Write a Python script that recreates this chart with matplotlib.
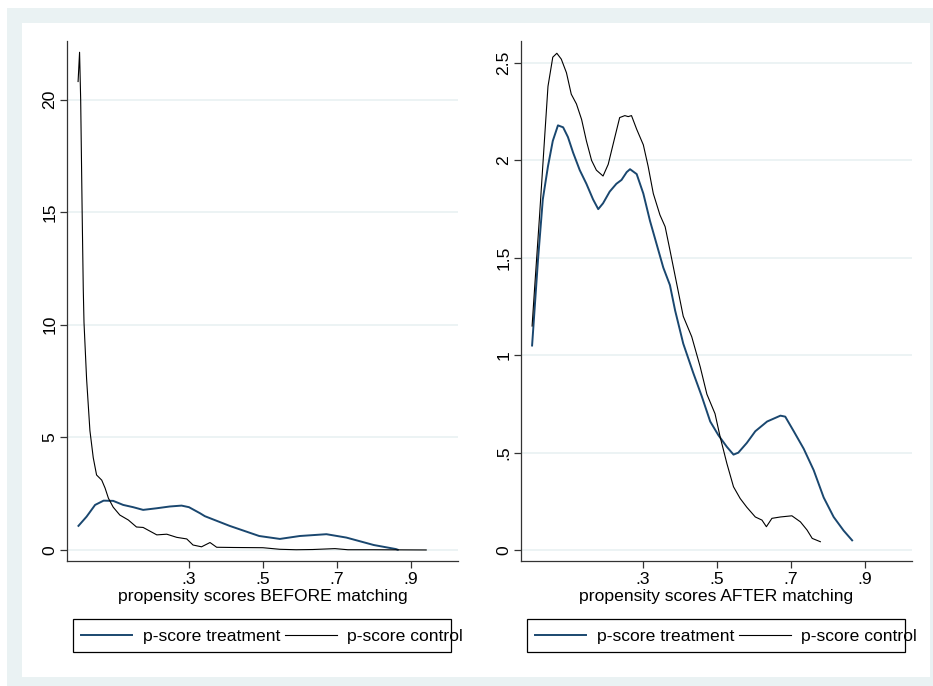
import matplotlib
matplotlib.use("Agg")
import matplotlib.pyplot as plt
from matplotlib.patches import Rectangle
from matplotlib.lines import Line2D

plt.rcParams["font.family"] = ["Liberation Sans", "DejaVu Sans"]

# density of propensity scores BEFORE matching
before_treat_x = [0.001, 0.023, 0.046, 0.069, 0.095, 0.122, 0.149, 0.176, 0.212, 0.248,
                  0.280, 0.300, 0.330, 0.343, 0.410, 0.490, 0.546, 0.600, 0.672, 0.726,
                  0.800, 0.860, 0.865]
before_treat_y = [1.07, 1.48, 2.00, 2.19, 2.18, 2.00, 1.90, 1.78, 1.85, 1.93,
                  1.97, 1.90, 1.63, 1.50, 1.07, 0.62, 0.49, 0.62, 0.70, 0.55,
                  0.22, 0.04, 0.01]
before_ctrl_x = [0.000, 0.004, 0.007, 0.011, 0.014, 0.016, 0.023, 0.032, 0.041, 0.050,
                 0.064, 0.073, 0.082, 0.095, 0.113, 0.136, 0.158, 0.176, 0.213, 0.240,
                 0.267, 0.294, 0.311, 0.334, 0.357, 0.375, 0.420, 0.500, 0.546, 0.590,
                 0.635, 0.695, 0.730, 0.800, 0.942]
before_ctrl_y = [20.8, 22.1, 20.0, 15.0, 11.6, 10.1, 7.6, 5.3, 4.1, 3.33,
                 3.10, 2.75, 2.30, 1.90, 1.55, 1.33, 1.02, 1.00, 0.67, 0.70,
                 0.56, 0.49, 0.22, 0.14, 0.33, 0.12, 0.11, 0.10, 0.03, 0.01,
                 0.02, 0.06, 0.01, 0.01, 0.00]

# density of propensity scores AFTER matching
after_treat_x = [0.000, 0.016, 0.029, 0.043, 0.056, 0.070, 0.084, 0.097, 0.111, 0.129,
                 0.147, 0.165, 0.179, 0.192, 0.210, 0.228, 0.242, 0.256, 0.265, 0.283,
                 0.301, 0.319, 0.337, 0.355, 0.373, 0.387, 0.409, 0.436, 0.459, 0.482,
                 0.504, 0.527, 0.545, 0.558, 0.581, 0.604, 0.636, 0.672, 0.685, 0.708,
                 0.735, 0.762, 0.789, 0.816, 0.843, 0.866]
after_treat_y = [1.05, 1.49, 1.80, 1.97, 2.10, 2.18, 2.17, 2.12, 2.04, 1.95,
                 1.88, 1.80, 1.75, 1.78, 1.84, 1.88, 1.90, 1.94, 1.955, 1.93,
                 1.83, 1.69, 1.57, 1.45, 1.36, 1.23, 1.06, 0.91, 0.79, 0.66,
                 0.59, 0.53, 0.49, 0.50, 0.55, 0.61, 0.66, 0.69, 0.685, 0.61,
                 0.52, 0.41, 0.27, 0.17, 0.10, 0.05]
after_ctrl_x = [0.000, 0.007, 0.020, 0.034, 0.043, 0.056, 0.067, 0.079, 0.093, 0.106,
                0.120, 0.134, 0.147, 0.161, 0.174, 0.192, 0.206, 0.224, 0.237, 0.251,
                0.260, 0.269, 0.283, 0.301, 0.314, 0.328, 0.346, 0.360, 0.373, 0.391,
                0.409, 0.432, 0.455, 0.473, 0.495, 0.509, 0.527, 0.545, 0.563, 0.581,
                0.604, 0.622, 0.634, 0.649, 0.672, 0.703, 0.726, 0.744, 0.758, 0.780]
after_ctrl_y = [1.15, 1.35, 1.71, 2.12, 2.38, 2.53, 2.55, 2.52, 2.45, 2.34,
                2.29, 2.21, 2.10, 2.00, 1.95, 1.92, 1.98, 2.12, 2.22, 2.23,
                2.225, 2.23, 2.16, 2.08, 1.97, 1.83, 1.72, 1.66, 1.54, 1.37,
                1.20, 1.095, 0.94, 0.80, 0.70, 0.58, 0.445, 0.325, 0.265, 0.22,
                0.17, 0.154, 0.12, 0.163, 0.17, 0.176, 0.145, 0.103, 0.06, 0.043]

x_ticks = [0.3, 0.5, 0.7, 0.9]
x_tick_labels = [".3", ".5", ".7", ".9"]
before_y_ticks = [0, 5, 10, 15, 20]
before_y_labels = ["0", "5", "10", "15", "20"]
after_y_ticks = [0, 0.5, 1, 1.5, 2, 2.5]
after_y_labels = ["0", ".5", "1", "1.5", "2", "2.5"]
legend_labels = ["p-score treatment", "p-score control"]

BLUE = "#1a476f"
BG = "#eaf2f3"
AXC = "#333333"
FS = 12.6

W, H = 933, 686
fig = plt.figure(figsize=(W / 100, H / 100), dpi=100)

# outer Stata-like frame
fig.add_artist(Rectangle((7 / W, 0), (W - 7) / W, (H - 8) / H, transform=fig.transFigure,
                         facecolor=BG, edgecolor="none", zorder=-2))
fig.add_artist(Rectangle((22 / W, 1 - 677 / H), 908 / W, 654 / H, transform=fig.transFigure,
                         facecolor="white", edgecolor="none", zorder=-1))


def px_rect(x0, y0, x1, y1):
    return [x0 / W, 1 - y1 / H, (x1 - x0) / W, (y1 - y0) / H]


panels = [
    (px_rect(67, 41, 458, 561), before_treat_x, before_treat_y, before_ctrl_x, before_ctrl_y,
     before_y_ticks, before_y_labels, (-0.49, 22.6), "propensity scores BEFORE matching", 0),
    (px_rect(521, 41, 912, 561), after_treat_x, after_treat_y, after_ctrl_x, after_ctrl_y,
     after_y_ticks, after_y_labels, (-0.056, 2.613), "propensity scores AFTER matching", 454),
]

for rect, tx, ty, cx, cy, yt, yl, ylim, xlab, dx in panels:
    ax = fig.add_axes(rect)
    ax.set_facecolor("none")
    ax.plot(tx, ty, color=BLUE, lw=1.4, solid_joinstyle="round")
    ax.plot(cx, cy, color="black", lw=0.8, solid_joinstyle="round")
    ax.set_xlim(-0.03, 1.028)
    ax.set_ylim(*ylim)
    ax.set_xticks(x_ticks)
    ax.set_xticklabels(x_tick_labels, fontsize=FS)
    ax.set_yticks(yt)
    ax.set_yticklabels(yl, fontsize=FS, rotation=90, va="center")
    ax.yaxis.grid(True, color=BG, lw=1.3)
    ax.set_axisbelow(True)
    for s in ["top", "right"]:
        ax.spines[s].set_visible(False)
    for s in ["left", "bottom"]:
        ax.spines[s].set_color(AXC)
        ax.spines[s].set_linewidth(0.9)
    ax.tick_params(axis="x", direction="out", length=5, width=0.9, color=AXC, pad=3)
    ax.tick_params(axis="y", direction="out", length=5, width=0.9, color=AXC, pad=2)
    ax.set_xlabel(xlab, fontsize=FS, labelpad=1)

    # legend drawn like the Stata one (text spills past the frame)
    fig.add_artist(Rectangle(((73 + dx) / W, 1 - 652 / H), 378 / W, 33 / H,
                             transform=fig.transFigure, facecolor="white",
                             edgecolor="black", lw=0.9, zorder=1))
    ly = 1 - 635 / H
    fig.add_artist(Line2D([(81 + dx) / W, (132 + dx) / W], [ly, ly], color=BLUE, lw=1.4,
                          transform=fig.transFigure, zorder=2))
    fig.text((143 + dx) / W, 1 - 636 / H, legend_labels[0], fontsize=FS, va="center",
             ha="left", zorder=3)
    fig.add_artist(Line2D([(285 + dx) / W, (337 + dx) / W], [ly, ly], color="black", lw=0.8,
                          transform=fig.transFigure, zorder=2))
    fig.text((347 + dx) / W, 1 - 636 / H, legend_labels[1], fontsize=FS, va="center",
             ha="left", zorder=3)

fig.savefig("out.png", dpi=100)
plt.close(fig)
